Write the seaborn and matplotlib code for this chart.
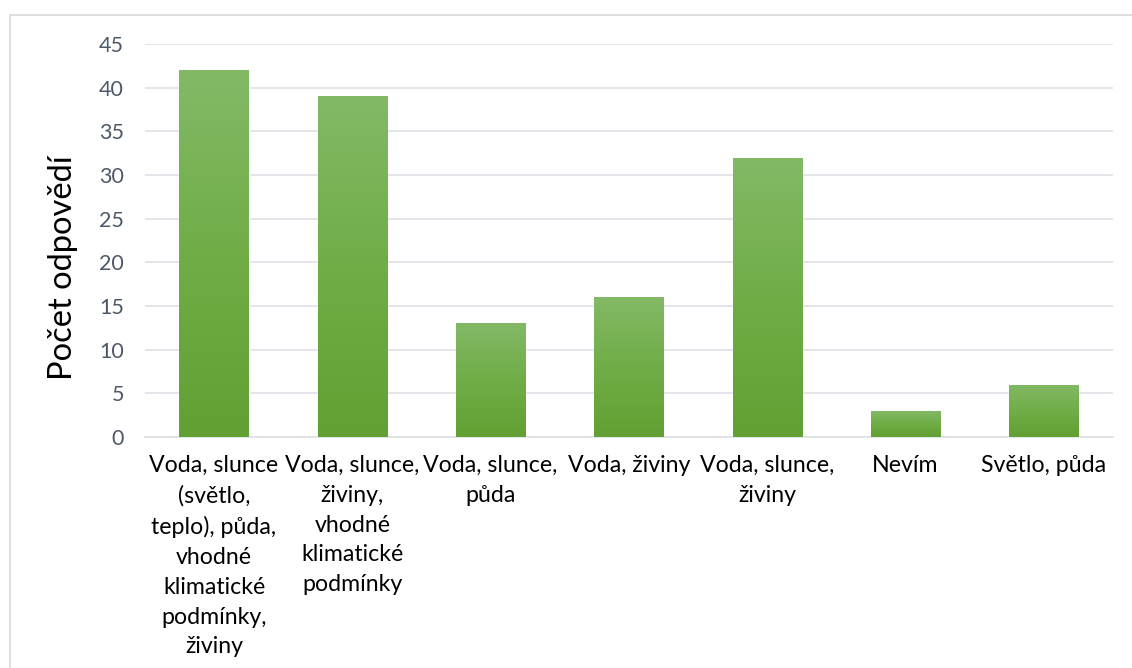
import matplotlib
matplotlib.use("Agg")
import matplotlib.pyplot as plt
import matplotlib.patches as mpatches
from matplotlib.colors import LinearSegmentedColormap
import numpy as np
import pandas as pd
import seaborn as sns

# data
categories = [
    "Voda, slunce\n(světlo,\nteplo), půda,\nvhodné\nklimatické\npodmínky,\nživiny",
    "Voda, slunce,\nživiny,\nvhodné\nklimatické\npodmínky",
    "Voda, slunce,\npůda",
    "Voda, živiny",
    "Voda, slunce,\nživiny",
    "Nevím",
    "Světlo, půda",
]
counts = [42, 39, 13, 16, 32, 3, 6]
y_ticks = [0, 5, 10, 15, 20, 25, 30, 35, 40, 45]
y_label = "Počet odpovědí"

sns.set_style("white")
plt.rcParams["font.family"] = ["Lato", "Open Sans", "DejaVu Sans"]

df = pd.DataFrame({"kategorie": categories, "pocet": counts})

fig = plt.figure(figsize=(11.32, 6.68), dpi=100)
ax = fig.add_axes([0.128, 0.346, 0.855, 0.588])

sns.barplot(data=df, x="kategorie", y="pocet", color="#70AD47", width=0.5,
            saturation=1, ax=ax, zorder=2)

# gradient fill for each bar (light at top, darker at bottom)
grad = LinearSegmentedColormap.from_list("g", ["#62A033", "#70AD47", "#83B966"])
gimg = np.linspace(0, 1, 256).reshape(-1, 1)
ax.set_ylim(0, 45)
for bar in ax.patches:
    x0, y0 = bar.get_x(), bar.get_y()
    w, h = bar.get_width(), bar.get_height()
    im = ax.imshow(gimg, cmap=grad, aspect="auto", origin="lower",
                   extent=[x0, x0 + w, y0, y0 + h], zorder=3)
    im.set_clip_path(bar)
ax.set_xlim(-0.5, len(categories) - 0.5)
ax.set_ylim(0, 45)

ax.set_yticks(y_ticks)
ax.yaxis.grid(True, color="#DDE1E6", linewidth=1.2, zorder=0)
ax.set_axisbelow(True)
for side in ["top", "right", "left"]:
    ax.spines[side].set_visible(False)
ax.spines["bottom"].set_color("#DDE1E6")
ax.spines["bottom"].set_linewidth(1.2)
ax.tick_params(axis="both", length=0)
ax.tick_params(axis="y", labelsize=15.5, labelcolor="#4D5868", pad=15)
ax.tick_params(axis="x", labelsize=16.7, labelcolor="#000000", pad=13)
for lbl in ax.get_xticklabels():
    lbl.set_linespacing(1.52)
    lbl.set_verticalalignment("top")

ax.set_xlabel("")
ax.set_ylabel(y_label, fontsize=23.5, color="#000000")
ax.yaxis.set_label_coords(-0.069, 0.43)

# outer chart border
fig.patches.append(mpatches.Rectangle((10 / 1132, -0.05), 1.2, 1 - 15 / 668 + 0.05,
                                      transform=fig.transFigure, fill=False,
                                      edgecolor="#D9D9D9", linewidth=1.2))

fig.savefig("out.png", dpi=100)
